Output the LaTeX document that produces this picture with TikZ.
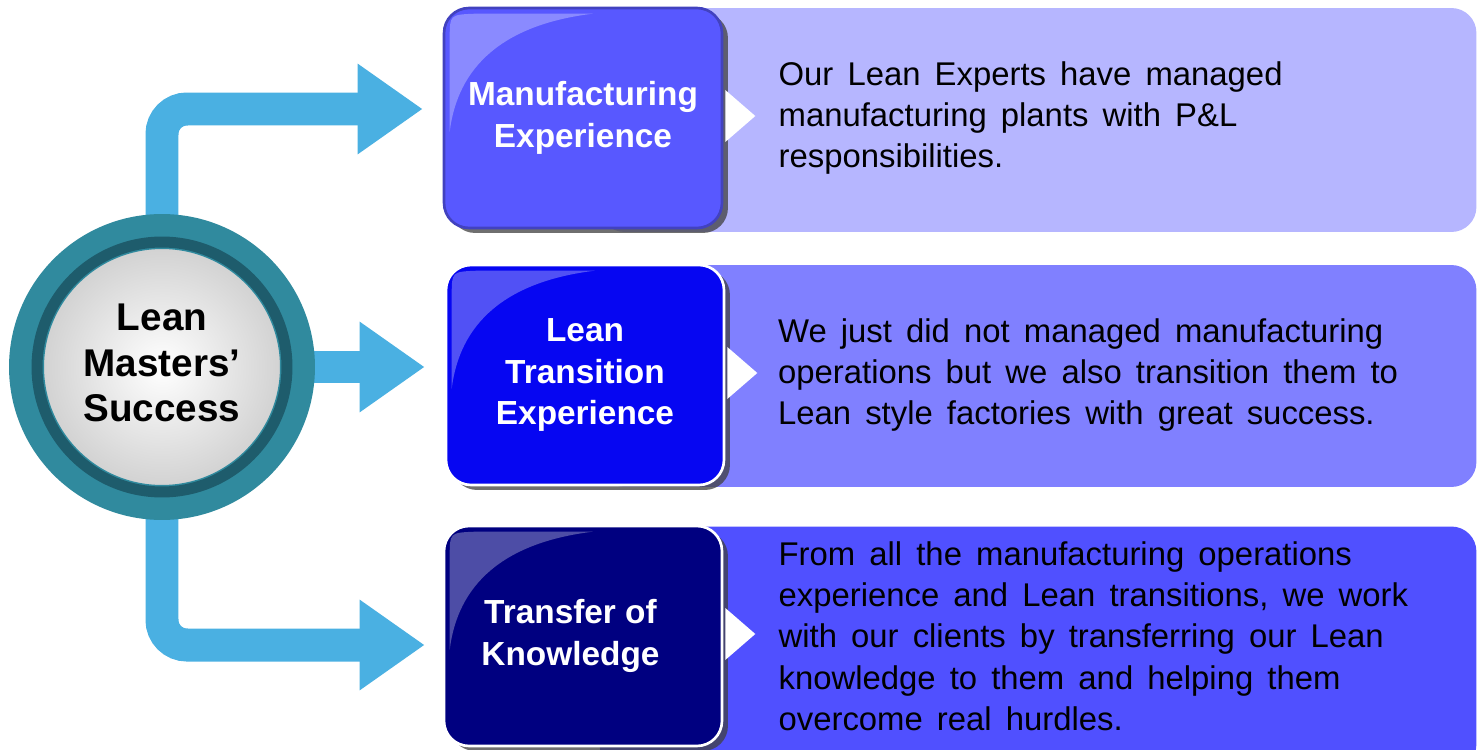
\documentclass[tikz,border=0pt]{standalone}
\usepackage{fontspec}
\setmainfont{Liberation Sans}
\usetikzlibrary{arrows.meta,shadows,positioning,backgrounds}
\definecolor{flowblue}{RGB}{74,176,226}
\definecolor{ringteal}{RGB}{48,138,158}
\definecolor{rimteal}{RGB}{30,92,108}
\definecolor{mfgbox}{RGB}{88,88,255}
\definecolor{mfgpanel}{RGB}{182,182,255}
\definecolor{leanbox}{RGB}{6,6,242}
\definecolor{leanpanel}{RGB}{128,128,255}
\definecolor{xferbox}{RGB}{0,0,128}
\definecolor{xferpanel}{RGB}{80,80,255}
\newcommand\widewords{\spaceskip=0.43em plus 0.1em\relax}
\tikzstyle{hub}=[circle, minimum size=5.42cm, draw=ringteal, line width=0.7cm, inner color=white, outer color=black!20, align=center, font=\fontsize{22}{26}\selectfont\bfseries]
\tikzstyle{rim}=[draw=rimteal, line width=0.22cm]
\tikzstyle{topic}=[rectangle, rounded corners=0.5cm, minimum width=5.56cm, minimum height=4.4cm, text=white, align=center, line width=1.5pt, font=\fontsize{19}{23.5}\selectfont\bfseries, drop shadow={shadow xshift=0.12cm, shadow yshift=-0.1cm, fill=black!75, opacity=0.75}]
\tikzstyle{panel}=[rectangle, rounded corners=0.5cm, minimum width=17.54cm]
\tikzstyle{blurb}=[align=left, inner sep=0pt, font=\fontsize{18.7}{23.5}\selectfont, execute at begin node=\widewords]
\tikzstyle{flow}=[draw=flowblue, line width=0.66cm, rounded corners=0.5cm, -{Triangle[width=1.72cm,length=1.3cm]}]
\tikzstyle{gloss}=[fill=white, fill opacity=0.3]

\begin{document}
\begin{tikzpicture}[x=0.02cm, y=-0.02cm]
  \useasboundingbox (0,0) rectangle (1482,750);

  %% Hub
  \node[hub] (hub) at (162,367) {\raisebox{0.14cm}{\begin{tabular}{@{}c@{}}Lean\\Masters’\\Success\end{tabular}}};
  \draw[rim] (hub.center) circle[radius=2.5cm];

  %% Topics
  \node[topic, fill=mfgbox, draw=mfgbox!75!black] (mfg) at (583,118) {Manufacturing\\Experience};
  \node[topic, fill=leanbox, draw=white] (lean) at (585,375) {Lean\\Transition\\Experience};
  \node[topic, fill=xferbox, draw=white] (xfer) at (583,636) {\hspace*{-0.5cm}Transfer of\\\hspace*{-0.5cm}Knowledge};

  \foreach \b in {mfg,lean,xfer} {
    \fill[gloss] ([shift={(7,125)}]\b.north west) -- ([shift={(7,32)}]\b.north west)
      .. controls ([shift={(7,8)}]\b.north west) .. ([shift={(32,7)}]\b.north west)
      -- ([shift={(150,7)}]\b.north west)
      .. controls ([shift={(60,18)}]\b.north west) and ([shift={(15,60)}]\b.north west) .. cycle;
    \fill[white] ([shift={(2,-28)}]\b.east) -- ([shift={(32,-2)}]\b.east) -- ([shift={(2,24)}]\b.east) -- cycle;
  }

  %% Blurbs
  \node[blurb, right=1.1cm of mfg] (mfgtxt) {Our Lean Experts have managed\\manufacturing plants with P\&L\\responsibilities.};
  \node[blurb, right=1.05cm of lean] (leantxt) {We just did not managed manufacturing\\operations but we also transition them to\\Lean style factories with great success.};
  \node[blurb, right=1.1cm of xfer] (xfertxt) {From all the manufacturing operations\\experience and Lean transitions, we work\\with our clients by transferring our Lean\\knowledge to them and helping them\\overcome real hurdles.};

  \begin{scope}[on background layer]
    \fill[white] (0,0) rectangle (1482,750);
    \node[panel, fill=mfgpanel, minimum height=4.48cm] (mfgpan) at (1038,120) {};
    \node[panel, fill=leanpanel, minimum height=4.44cm] (leanpan) at (1038,376) {};
    \node[panel, fill=xferpanel, minimum height=4.86cm] (xferpan) at (1038,648) {};

    \draw[flow] (hub.center) |- ([shift={(-20,-9)}]mfg.west);
    \draw[flow] (hub.center) -- ([shift={(-20,-8)}]lean.west);
    \draw[flow] (hub.center) |- ([shift={(-18,9)}]xfer.west);
  \end{scope}
\end{tikzpicture}
\end{document}
